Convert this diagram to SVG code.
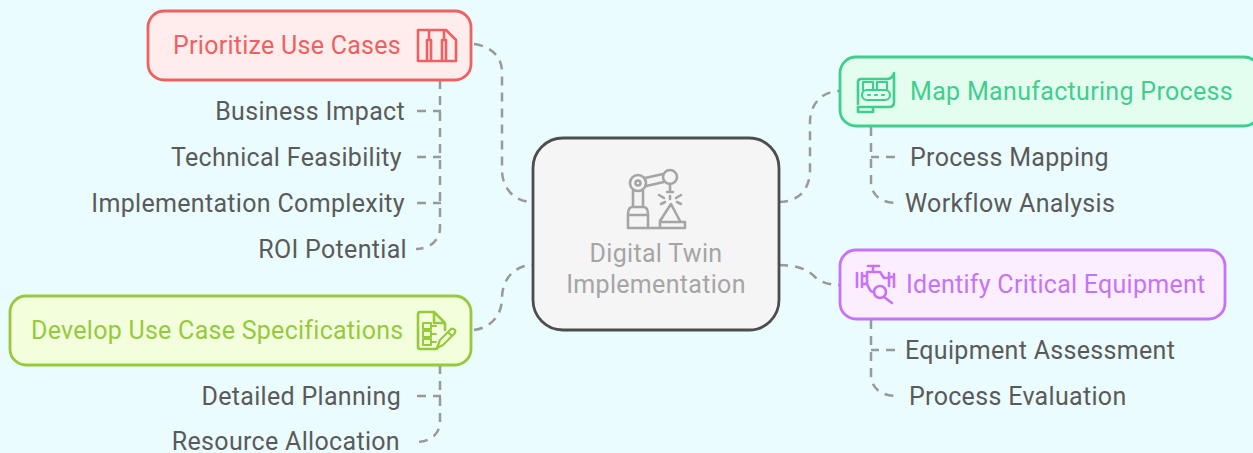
<svg xmlns="http://www.w3.org/2000/svg" width="1253" height="453" viewBox="0 0 1253 453">
<style>
text{font-family:Roboto,"Liberation Sans",sans-serif;font-size:25px;letter-spacing:.32px}
.s{fill:#5a5a5a}
.c{fill:none;stroke:#999;stroke-width:2.5;stroke-dasharray:9 7}
.box{stroke-width:2.8}
.i{fill:none;stroke-width:2.6;stroke-linejoin:round;stroke-linecap:round}
</style>
<rect width="1253" height="453" fill="#ebfcfe"/>
<g id="connectors">
<path class="c" d="M474 44C490 46 502 56 502 72V170C502 188 514 202 533 202"/>
<path class="c" d="M779 202C798 202 810 190 810 170V122C810 104 822 91 840 91"/>
<path class="c" d="M779 265C798 265 808 270 815 277C822 283 830 285 840 285"/>
<path class="c" d="M474 330C490 328 502 316 502 298C502 280 514 265 533 265"/>
<path class="c" d="M440 80V228C440 240 430 249 416 249"/>
<path class="c" d="M417 111H441M417 157H441M417 203H441"/>
<path class="c" d="M440 365V422C440 434 430 442 416 442"/>
<path class="c" d="M417 396H441"/>
<path class="c" d="M871 127V182C871 194 880 203 897 203"/>
<path class="c" d="M895 157H871"/>
<path class="c" d="M871 320V375C871 387 880 396 897 396"/>
<path class="c" d="M895 350H871"/>
</g>
<g id="center">
<rect x="533" y="138" width="246" height="192" rx="30" fill="#f5f5f5" stroke="#4d4d4d" stroke-width="2.8"/>
<g class="i" stroke="#a5a5a5">
<circle cx="638" cy="183" r="8"/><circle cx="638" cy="183" r="2.5"/><circle cx="670" cy="177" r="7"/>
<path d="M645 178L663 174M646 186L664 182M633 191V207M643 191V207M628 228V214Q628 207 633 207H643Q648 207 648 214V228ZM628 215H648M628 228H685V222H660V228M660 221L671 204L680 221M670 184V192M667 192H673M670 196V199M659 195L664 198M681 195L676 198M661 204L665 202M681 204L677 202"/>
</g>
<text x="656" y="262" text-anchor="middle" fill="#a5a5a5">Digital Twin</text>
<text x="656" y="293" text-anchor="middle" fill="#a5a5a5">Implementation</text>
</g>
<g id="prioritize">
<rect class="box" x="148" y="11" width="323" height="69" rx="16" fill="#ffeded" stroke="#ef6060"/>
<text x="173" y="54" fill="#ef6060" style="letter-spacing:.27px">Prioritize Use Cases</text>
<g class="i" stroke="#ef6060"><path d="M418 30H446L456 40V61H418ZM427 61V40H431V61M429 30V40M442 61V40H446V61M444 30V40"/></g>
</g>
<g id="n-business"><text class="s" x="405" y="120" text-anchor="end">Business Impact</text></g>
<g id="n-technical"><text class="s" x="402" y="166" text-anchor="end">Technical Feasibility</text></g>
<g id="n-complexity"><text class="s" x="405" y="212" text-anchor="end">Implementation Complexity</text></g>
<g id="n-roi"><text class="s" x="407" y="258" text-anchor="end">ROI Potential</text></g>
<g id="develop">
<rect class="box" x="10" y="296" width="461" height="69" rx="16" fill="#f3fedd" stroke="#97c93d"/>
<text x="31" y="339" fill="#97c93d" style="letter-spacing:.27px">Develop Use Case Specifications</text>
<g class="i" stroke="#97c93d"><path d="M437 349H420Q418 349 418 346V315Q418 312 420 312H434L445 323V330M434 312V323H445"/><path d="M423 323H431V329H423ZM423 331H431V337H423ZM423 339H431V345H423ZM431 326H436M431 334H436M431 342H436" stroke-width="2"/><path d="M437 348L440 340L451 329Q453 328 455 330Q456 332 454 334L443 345ZM448 332L452 336" stroke-width="2.2"/></g>
</g>
<g id="n-planning"><text class="s" x="401" y="405" text-anchor="end">Detailed Planning</text></g>
<g id="n-resource"><text class="s" x="400" y="450" text-anchor="end">Resource Allocation</text></g>
<g id="map">
<rect class="box" x="840" y="57" width="420" height="69" rx="16" fill="#e3fdef" stroke="#3ecf8e"/>
<text x="910" y="100" fill="#3ecf8e">Map Manufacturing Process</text>
<g class="i" stroke="#3ecf8e"><path d="M858 104V82Q858 79 861 79H888Q893 78 894 73V102Q894 107 889 107H873V112H858V107H873"/><rect x="862" y="90" width="28" height="10" rx="5" stroke-width="2.2"/><path d="M863 90V82H873V90M877 90V82H887V90M868 95H870M875 95H877M882 95H884" stroke-width="2.2"/></g>
</g>
<g id="n-mapping"><text class="s" x="910" y="166">Process Mapping</text></g>
<g id="n-workflow"><text class="s" x="905" y="212">Workflow Analysis</text></g>
<g id="identify">
<rect class="box" x="840" y="250" width="385" height="69" rx="16" fill="#faeeff" stroke="#c673f7"/>
<text x="906" y="293" fill="#c673f7" style="letter-spacing:.27px">Identify Critical Equipment</text>
<g class="i" stroke="#c673f7"><path d="M868 266H879M873 266V271M857 273V287M862 273V287M862 276H867V284H862M867 276V272H880L884 278H889M889 273V286M894 274V287M889 277H894M867 284L870 290Q871 292 874 292"/><circle cx="880" cy="292" r="6"/><path d="M884 297L892 303"/></g>
</g>
<g id="n-equipment"><text class="s" x="905" y="359">Equipment Assessment</text></g>
<g id="n-evaluation"><text class="s" x="909" y="405">Process Evaluation</text></g>
</svg>
